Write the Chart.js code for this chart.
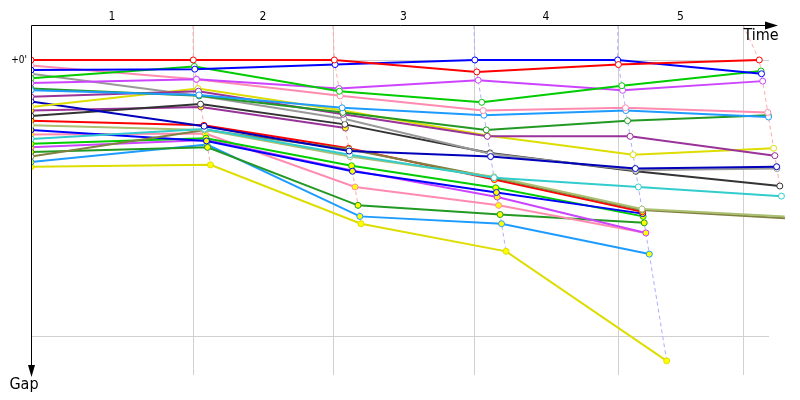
<!DOCTYPE html>
<html>
<head>
<meta charset="utf-8">
<script src="https://cdn.jsdelivr.net/npm/chart.js@4/dist/chart.umd.min.js"></script>
<style>
  html, body { margin: 0; padding: 0; background: #fff; }
  #wrap { width: 800px; height: 400px; }
</style>
</head>
<body>
<div id="wrap"><canvas id="gapChart" width="800" height="400"></canvas></div>
<script>
// leader crossing time per lap (s), lap 0 = start
const lapTimes = [0, 108.2, 202.2, 295.9, 391.1, 485.5];
// vertical grid lines (s) and lap labels between them
const gridTimes = [108, 201.3, 295.3, 391.3, 474.7];
const lapLabels = ["1", "2", "3", "4", "5"];
const gapTicks = [0, 30];

// gap to leader (s) at start, lap 1..5 — class A
const redA = [0.0, 0.0, 0.0, 1.3, 0.5, 0.0];
const pinkA = [0.6, 2.1, 3.9, 5.5, 5.2, 5.7];
const blueA = [1.1, 1.0, 0.5, 0.0, 0.0, 1.5];
const greenA = [2.0, 0.7, 3.4, 4.6, 2.8, 1.2];
const magentaA = [2.5, 2.1, 3.1, 2.2, 3.3, 2.3];
const dkGreenA = [3.1, 3.9, 5.7, 7.6, 6.6, 6.0];
const ltBlueA = [3.3, 3.8, 5.2, 6.0, 5.5, 6.2];
const purpleA = [4.0, 3.4, 5.9, 8.3, 8.3, 10.4];
const yellowA = [5.1, 3.1, 5.5, 8.2, 10.3, 9.6];
const grayA = [1.5, 3.9, 6.4, 10.2, 12.0, 11.8];
const blackA = [6.1, 4.8, 7.0, 10.1, 12.1, 13.7];
const navyA = [4.5, 7.2, 9.9, 10.5, 11.8, 11.6];
const oliveLtA = [7.1, 7.6, 10.5, 12.7, 16.2, 17.0];
const cyanA = [8.6, 7.5, 10.3, 12.8, 13.8, 14.8];
const oliveA = [10.5, 7.6, 9.7, 12.8, 16.3, 17.2];

// class B
const redB = [6.6, 7.1, 9.6, 13.0, 16.5];
const purpleB = [5.5, 5.1, 7.4];
const blueB = [7.6, 8.8, 12.1, 14.4, 16.7];
const pinkB = [8.1, 8.0, 13.8, 15.8, 18.8];
const greenB = [9.1, 8.5, 11.5, 13.9, 17.0];
const magentaB = [9.5, 8.7, 12.0, 14.9, 18.8];
const dkGreenB = [10.0, 9.5, 15.8, 16.8, 17.7];
const ltBlueB = [11.1, 9.2, 17.0, 17.8, 21.1];
const yellowB = [11.6, 11.4, 17.8, 20.8, 32.7];

const C = {
  red: "#ff0000", pink: "#ff8cb0", blue: "#0000ff", green: "#00cc00",
  magenta: "#cc44ff", dkGreen: "#229922", ltBlue: "#1e9bff", purple: "#993399",
  yellow: "#dddd00", gray: "#999999", black: "#333333", navy: "#0000bb",
  oliveLt: "#aac070", cyan: "#33cccc", olive: "#808040",
};

const drivers = [
  [redA, C.red, "#fff"], [blueA, C.blue, "#fff"], [greenA, C.green, "#fff"],
  [magentaA, C.magenta, "#fff"], [pinkA, C.pink, "#fff"], [ltBlueA, C.ltBlue, "#fff"],
  [dkGreenA, C.dkGreen, "#fff"], [purpleA, C.purple, "#fff"], [yellowA, C.yellow, "#fff"],
  [navyA, C.navy, "#fff"], [grayA, C.gray, "#fff"], [blackA, C.black, "#fff"],
  [cyanA, C.cyan, "#fff"], [oliveLtA, C.oliveLt, "#fff"], [oliveA, C.olive, "#fff"],
  [redB, C.red, "#ffff00"], [purpleB, C.purple, "#ffff00"], [blueB, C.blue, "#ffff00"],
  [greenB, C.green, "#ffff00"], [magentaB, C.magenta, "#ffff00"], [pinkB, C.pink, "#ffff00"],
  [dkGreenB, C.dkGreen, "#ffff00"], [ltBlueB, C.ltBlue, "#ffff00"], [yellowB, C.yellow, "#ffff00"],
];

const X_MAX = 498;
const Y_MIN = -3.8;
const Y_MAX = 34.24;
const GRID_END = 492;

function toPoints(gaps) {
  return gaps.map((g, lap) => ({ x: lap === 0 ? 0 : lapTimes[lap] + g, y: g }));
}

const datasets = drivers.map(([gaps, color, fill], i) => ({
  data: toPoints(gaps),
  borderColor: color,
  backgroundColor: color,
  borderWidth: 2,
  pointRadius: 3,
  pointBorderWidth: 1,
  pointBackgroundColor: fill,
  pointBorderColor: color,
  tension: 0,
  clip: { left: 0, top: 10, right: 20, bottom: 10 },
  order: i,
}));

// dashed line through each lap's crossing points
lapLabels.forEach((_, k) => {
  const lap = k + 1;
  const pts = drivers
    .filter(([gaps]) => gaps.length > lap)
    .map(([gaps]) => ({ x: lapTimes[lap] + gaps[lap], y: gaps[lap] }))
    .sort((a, b) => a.y - b.y);
  const dashColor = lap === 3 || lap === 4 ? "#aab0ff" : "#ffaaaa";
  datasets.push({
    data: [{ x: gridTimes[k], y: Y_MIN }, ...pts],
    borderColor: dashColor,
    borderWidth: 1,
    borderDash: [4, 3],
    pointRadius: 0,
    tension: 0,
    clip: false,
    order: 100 + k,
  });
});

const FONT = "'DejaVu Sans Condensed', 'Liberation Sans Narrow', sans-serif";

const frame = {
  id: "frame",
  beforeDatasetsDraw(chart) {
    const { ctx, chartArea: a, scales } = chart;
    const xs = scales.x, ys = scales.y;
    ctx.save();
    ctx.strokeStyle = "#d0d0d0";
    ctx.lineWidth = 1;
    gridTimes.forEach((t) => {
      const px = Math.round(xs.getPixelForValue(t)) + 0.5;
      ctx.beginPath();
      ctx.moveTo(px, a.top);
      ctx.lineTo(px, a.bottom);
      ctx.stroke();
    });
    gapTicks.forEach((g) => {
      const py = Math.round(ys.getPixelForValue(g)) + 0.5;
      ctx.beginPath();
      ctx.moveTo(a.left, py);
      ctx.lineTo(xs.getPixelForValue(GRID_END), py);
      ctx.stroke();
    });
    ctx.restore();
  },
  afterDraw(chart) {
    const { ctx, chartArea: a, scales } = chart;
    const xs = scales.x, ys = scales.y;
    const left = a.left + 0.5, top = a.top + 0.5;
    ctx.save();
    ctx.strokeStyle = "#000";
    ctx.fillStyle = "#000";
    ctx.lineWidth = 1;
    ctx.beginPath();
    ctx.moveTo(left, top);
    ctx.lineTo(a.right - 8, top);
    ctx.moveTo(left, top);
    ctx.lineTo(left, a.bottom - 4);
    ctx.stroke();
    // arrow heads
    ctx.beginPath();
    ctx.moveTo(a.right, top);
    ctx.lineTo(a.right - 13, top - 4);
    ctx.lineTo(a.right - 13, top + 4);
    ctx.closePath();
    ctx.fill();
    ctx.beginPath();
    ctx.moveTo(left, a.bottom + 2);
    ctx.lineTo(left - 3.5, a.bottom - 10);
    ctx.lineTo(left + 3.5, a.bottom - 10);
    ctx.closePath();
    ctx.fill();

    ctx.textAlign = "center";
    ctx.textBaseline = "middle";
    ctx.font = "12px " + FONT;
    const bounds = [0, ...gridTimes];
    lapLabels.forEach((lbl, i) => {
      const mid = (xs.getPixelForValue(bounds[i]) + xs.getPixelForValue(bounds[i + 1])) / 2;
      ctx.fillText(lbl, mid, 17);
    });
    ctx.font = "16px " + FONT;
    ctx.fillText("Time", 761, 36);
    ctx.fillText("Gap", 24, 385);
    ctx.font = "10px " + FONT;
    ctx.textAlign = "right";
    ctx.fillText("+0'", 27, ys.getPixelForValue(0));
    ctx.restore();
  },
};

new Chart(document.getElementById("gapChart"), {
  type: "line",
  data: { datasets },
  options: {
    responsive: false,
    animation: false,
    layout: { padding: { left: 31, top: 25, right: 22, bottom: 25 } },
    plugins: { legend: { display: false }, tooltip: { enabled: false } },
    scales: {
      x: { type: "linear", min: 0, max: X_MAX, display: false },
      y: { type: "linear", min: Y_MIN, max: Y_MAX, reverse: true, display: false },
    },
  },
  plugins: [frame],
});
</script>
</body>
</html>
